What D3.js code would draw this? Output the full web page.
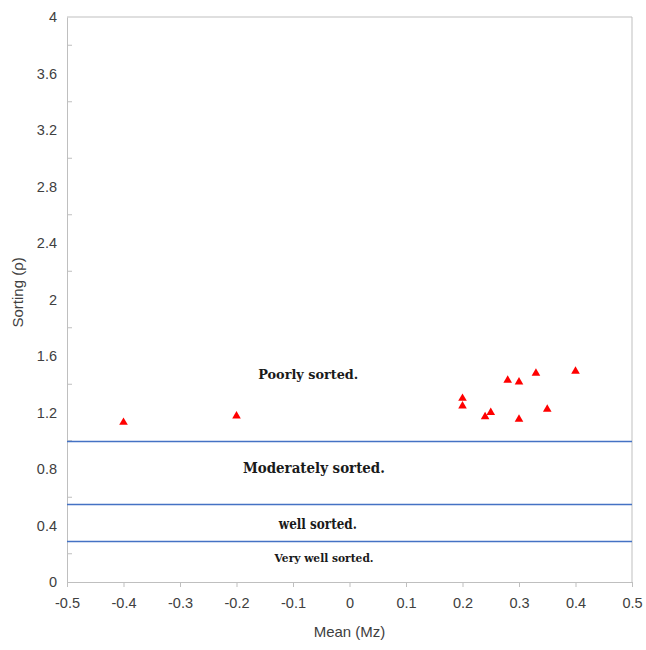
<!DOCTYPE html>
<html><head><meta charset="utf-8">
<script src="https://cdn.jsdelivr.net/npm/d3@7"></script>
<style>body{margin:0;background:#fff}</style>
</head><body>
<script>
const meanMz = [-0.4, -0.2, 0.2, 0.2, 0.24, 0.25, 0.28, 0.3, 0.3, 0.33, 0.35, 0.4];
const sorting = [1.13, 1.175, 1.30, 1.246, 1.17, 1.20, 1.428, 1.416, 1.152, 1.478, 1.223, 1.492];
const xTicks = [-0.5, -0.4, -0.3, -0.2, -0.1, 0, 0.1, 0.2, 0.3, 0.4, 0.5];
const yTicks = [0, 0.4, 0.8, 1.2, 1.6, 2, 2.4, 2.8, 3.2, 3.6, 4];
const classBounds = [1.0, 0.555, 0.29];
const classLabels = ["Poorly sorted.", "Moderately sorted.", "well sorted.", "Very well sorted."];
const labelY = [1.465, 0.8, 0.404, 0.16];
const labelX = [-0.073, -0.063, -0.056, -0.045];
const labelSize = [13.5, 15.5, 14, 11.5];
const labelWidth = [100, 142, 78, 99];

const W = 646, H = 650;
const svg = d3.select("body").append("svg").attr("width", W).attr("height", H);
const x = d3.scaleLinear().domain([-0.5, 0.5]).range([67, 632]);
const y = d3.scaleLinear().domain([0, 4]).range([582, 17]);
const axisCol = "#bfbfbf", txtCol = "#404040";
const tickFont = "Liberation Sans, Arial, sans-serif";
const fmt = d => String(+(+d).toFixed(1));

// plot border (top & right)
svg.append("line").attr("x1", x(-0.5)).attr("x2", x(0.5)).attr("y1", y(4)).attr("y2", y(4)).attr("stroke", axisCol);
svg.append("line").attr("x1", x(0.5)).attr("x2", x(0.5)).attr("y1", y(4)).attr("y2", y(0)).attr("stroke", axisCol);

// x axis
const gx = svg.append("g").attr("transform", `translate(0,${y(0)})`)
  .call(d3.axisBottom(x).tickValues(xTicks).tickSize(5).tickPadding(11).tickFormat(fmt));
gx.select(".domain").attr("stroke", axisCol);
gx.selectAll(".tick line").attr("stroke", axisCol);
gx.selectAll("text").attr("fill", txtCol).style("font-family", tickFont).style("font-size", "14.5px");

// y axis
const gy = svg.append("g").attr("transform", `translate(${x(-0.5)},0)`)
  .call(d3.axisLeft(y).tickValues(yTicks).tickSize(0).tickPadding(10).tickFormat(fmt));
gy.select(".domain").attr("stroke", axisCol);
gy.selectAll("text").attr("fill", txtCol).style("font-family", tickFont).style("font-size", "14.5px");
// minor ticks inside
const minor = d3.range(0.2, 4, 0.4);
svg.append("g").selectAll("line").data(minor).join("line")
  .attr("x1", x(-0.5)).attr("x2", x(-0.5) + 5).attr("y1", d => y(d)).attr("y2", d => y(d)).attr("stroke", axisCol);

// class boundary lines
svg.append("g").selectAll("line").data(classBounds).join("line")
  .attr("x1", x(-0.5)).attr("x2", x(0.5)).attr("y1", d => Math.round(y(d)) + 0.5).attr("y2", d => Math.round(y(d)) + 0.5)
  .attr("stroke", "#4472c4").attr("stroke-width", 1.3);

// labels
svg.append("g").selectAll("text").data(classLabels).join("text")
  .attr("x", (d, i) => x(labelX[i])).attr("y", (d, i) => y(labelY[i]))
  .attr("text-anchor", "middle").attr("dominant-baseline", "middle")
  .attr("textLength", (d, i) => labelWidth[i]).attr("lengthAdjust", "spacingAndGlyphs")
  .style("font-family", "DejaVu Serif, serif").style("font-weight", "bold")
  .style("font-size", (d, i) => labelSize[i] + "px").attr("fill", "#1a1a1a").text(d => d);

// points
const tri = d3.symbol().type(d3.symbolTriangle).size(32);
svg.append("g").selectAll("path").data(meanMz).join("path")
  .attr("d", tri).attr("transform", (d, i) => `translate(${x(d)},${y(sorting[i])})`).attr("fill", "#ff0000");

// titles
svg.append("text").attr("x", x(0)).attr("y", 637).attr("text-anchor", "middle")
  .style("font-family", tickFont).style("font-size", "15px").attr("fill", txtCol).text("Mean (Mz)");
svg.append("text").attr("transform", `translate(23,${y(2.05)}) rotate(-90)`).attr("text-anchor", "middle")
  .style("font-family", tickFont).style("font-size", "15px").attr("fill", txtCol).text("Sorting (ρ)");
</script>
</body></html>
